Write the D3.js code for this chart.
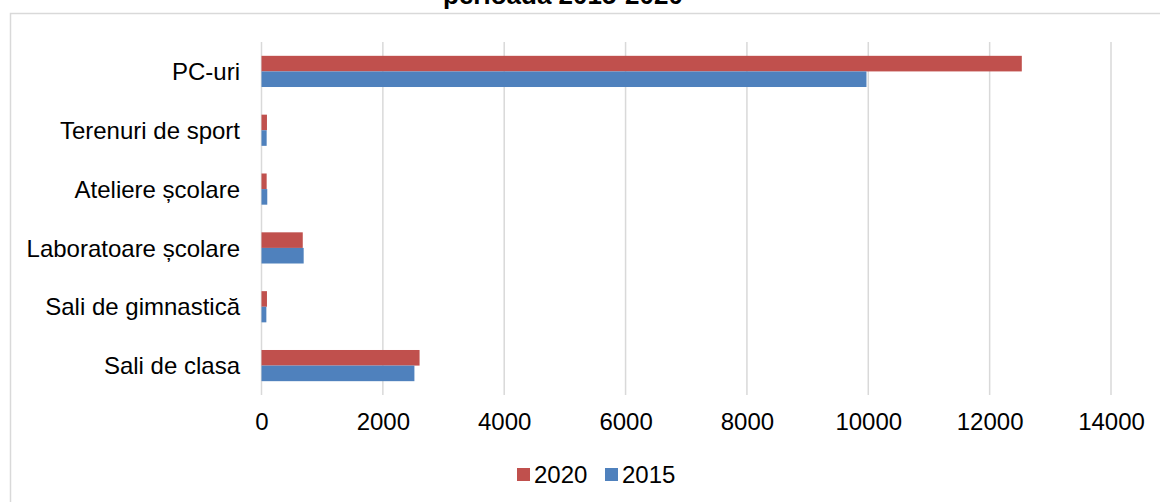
<!DOCTYPE html>
<html>
<head>
<meta charset="utf-8">
<script src="https://cdn.jsdelivr.net/npm/d3@7/dist/d3.min.js"></script>
<style>
  html, body { margin: 0; padding: 0; background: #fff; }
  svg { display: block; font-family: Arial, "Liberation Sans", sans-serif; }
</style>
</head>
<body>
<svg id="chart" width="1160" height="502"></svg>
<script>
const categories = ["PC-uri", "Terenuri de sport", "Ateliere școlare", "Laboratoare școlare", "Sali de gimnastică", "Sali de clasa"];
const seriesNames = ["2020", "2015"];
const values2020 = [12530, 90, 85, 680, 90, 2605];
const values2015 = [9970, 85, 95, 695, 80, 2520];
const tickValues = [0, 2000, 4000, 6000, 8000, 10000, 12000, 14000];
const colors = { "2020": "#C0504D", "2015": "#4F81BD" };
const titleText = "perioada 2015-2020";

const svg = d3.select("#chart");

// outer chart border
svg.append("rect")
  .attr("x", 10.5).attr("y", 13.5)
  .attr("width", 1400).attr("height", 700)
  .attr("fill", "none").attr("stroke", "#D9D9D9").attr("stroke-width", 1.5);

// title (top line cut off by the frame, as in the reference)
svg.append("text")
  .attr("x", 563).attr("y", 4)
  .attr("text-anchor", "middle")
  .attr("font-size", 26).attr("font-weight", "bold")
  .attr("fill", "#000")
  .text(titleText);

const x = d3.scaleLinear().domain([0, 14000]).range([261.5, 1111]);
const y = d3.scaleBand().domain(categories).range([42, 395]).paddingInner(0.47).paddingOuter(0.235);
const ySub = d3.scaleBand().domain(seriesNames).range([0, y.bandwidth()]);

// gridlines
svg.append("g").selectAll("line").data(tickValues).join("line")
  .attr("x1", d => x(d)).attr("x2", d => x(d))
  .attr("y1", 42).attr("y2", 395)
  .attr("stroke", "#D9D9D9").attr("stroke-width", 1.5);

// bars
const data = categories.map((c, i) => ({ cat: c, vals: [
  { s: "2020", v: values2020[i] }, { s: "2015", v: values2015[i] }
]}));
const groups = svg.append("g").selectAll("g").data(data).join("g")
  .attr("transform", d => `translate(0,${y(d.cat)})`);
groups.selectAll("rect").data(d => d.vals).join("rect")
  .attr("x", x(0))
  .attr("y", d => ySub(d.s))
  .attr("width", d => x(d.v) - x(0))
  .attr("height", ySub.bandwidth())
  .attr("fill", d => colors[d.s]);

// x axis labels
const xAxis = d3.axisBottom(x).tickValues(tickValues).tickSize(0).tickPadding(0).tickFormat(d3.format("d"));
const gx = svg.append("g").attr("transform", "translate(0,413)").call(xAxis);
gx.select(".domain").remove();
gx.selectAll("text").attr("font-size", 24).attr("fill", "#000")
  .attr("font-family", "Arial, 'Liberation Sans', sans-serif")
  .attr("dy", "0.72em");

// y axis labels
const yAxis = d3.axisLeft(y).tickSize(0).tickPadding(0);
const gy = svg.append("g").attr("transform", "translate(240,0)").call(yAxis);
gy.select(".domain").remove();
gy.selectAll("text").attr("font-size", 24).attr("fill", "#000")
  .attr("font-family", "Arial, 'Liberation Sans', sans-serif")
  .attr("dy", "0.36em");

// legend
const legendX = [517, 605];
const legend = svg.append("g").selectAll("g").data(seriesNames).join("g")
  .attr("transform", (d, i) => `translate(${legendX[i]},468)`);
legend.append("rect").attr("width", 13).attr("height", 13).attr("fill", d => colors[d]);
legend.append("text").attr("x", 17).attr("y", 15)
  .attr("font-size", 24).attr("fill", "#000").text(d => d);
</script>
</body>
</html>
